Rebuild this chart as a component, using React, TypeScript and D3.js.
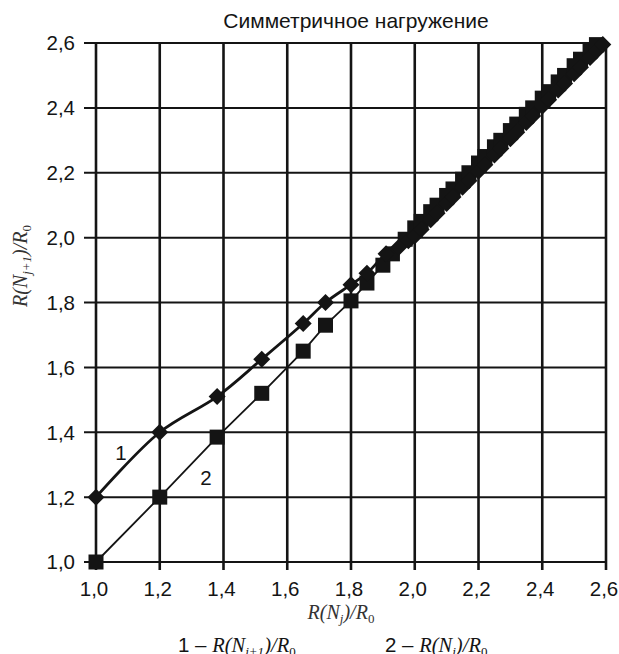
import { useEffect, useRef } from "react";
import * as d3 from "d3";

// series 1: R(N_{j+1})/R0 against R(N_j)/R0 (diamonds)
const s1X = [1.0, 1.2, 1.38, 1.52, 1.65, 1.72, 1.8, 1.85, 1.91, 1.95, 1.98,
  2.0, 2.02, 2.05, 2.07, 2.1, 2.12, 2.15, 2.17, 2.2, 2.22, 2.25, 2.27, 2.3, 2.32,
  2.35, 2.37, 2.4, 2.42, 2.45, 2.47, 2.5, 2.52, 2.55, 2.57, 2.59];
const s1Y = [1.2, 1.4, 1.51, 1.625, 1.735, 1.8, 1.855, 1.89, 1.95, 1.97, 1.99,
  2.005, 2.025, 2.055, 2.075, 2.105, 2.125, 2.155, 2.175, 2.205, 2.225, 2.255, 2.275, 2.305, 2.325,
  2.355, 2.375, 2.405, 2.425, 2.455, 2.475, 2.505, 2.525, 2.555, 2.575, 2.595];

// series 2: R(N_j)/R0 (squares)
const s2X = [1.0, 1.2, 1.38, 1.52, 1.65, 1.72, 1.8, 1.85, 1.9, 1.93, 1.97,
  2.0, 2.02, 2.05, 2.07, 2.1, 2.12, 2.15, 2.17, 2.2, 2.22, 2.25, 2.27, 2.3, 2.32,
  2.35, 2.37, 2.4, 2.42, 2.45, 2.47, 2.5, 2.52, 2.55, 2.57];
const s2Y = [1.0, 1.2, 1.385, 1.52, 1.65, 1.73, 1.805, 1.86, 1.915, 1.95, 1.995,
  2.03, 2.05, 2.08, 2.1, 2.13, 2.15, 2.18, 2.2, 2.23, 2.25, 2.28, 2.3, 2.33, 2.35,
  2.38, 2.4, 2.43, 2.45, 2.48, 2.5, 2.53, 2.55, 2.58, 2.595];

const ticks = [1.0, 1.2, 1.4, 1.6, 1.8, 2.0, 2.2, 2.4, 2.6];
const TITLE = "Симметричное нагружение";

const W = 619;
const H = 654;
const M = { left: 96, right: 606, top: 43, bottom: 562 };
const SANS = "'Liberation Sans', Arial, sans-serif";
const SERIF = "'Liberation Serif', 'Times New Roman', serif";
const INK = "#141414";

const fmt = (v: number) => v.toFixed(1).replace(".", ",");

export default function App() {
  const svgRef = useRef<SVGSVGElement | null>(null);

  useEffect(() => {
    const svg = d3.select(svgRef.current);
    svg.selectAll("*").remove();

    const x = d3.scaleLinear().domain([1.0, 2.6]).range([M.left, M.right]);
    const y = d3.scaleLinear().domain([1.0, 2.6]).range([M.bottom, M.top]);

    // grid + ticks
    const grid = svg.append("g").attr("stroke", INK).attr("stroke-width", 2);
    grid
      .selectAll("line.h")
      .data(ticks)
      .join("line")
      .attr("class", "h")
      .attr("x1", M.left - 12)
      .attr("x2", M.right)
      .attr("y1", (d) => y(d))
      .attr("y2", (d) => y(d));
    grid
      .selectAll("line.v")
      .data(ticks)
      .join("line")
      .attr("class", "v")
      .attr("y1", M.top)
      .attr("y2", M.bottom + 8)
      .attr("x1", (d) => x(d))
      .attr("x2", (d) => x(d))
      .attr("stroke-width", 2.6);

    svg
      .append("g")
      .selectAll("text")
      .data(ticks)
      .join("text")
      .attr("x", M.left - 21)
      .attr("y", (d) => y(d))
      .attr("dy", "0.36em")
      .attr("text-anchor", "end")
      .attr("font-family", SANS)
      .attr("font-size", 20.5)
      .attr("fill", INK)
      .text(fmt);

    svg
      .append("g")
      .selectAll("text")
      .data(ticks)
      .join("text")
      .attr("x", (d) => x(d) - 2)
      .attr("y", 596)
      .attr("text-anchor", "middle")
      .attr("font-family", SANS)
      .attr("font-size", 20.5)
      .attr("fill", INK)
      .text(fmt);

    // title
    svg
      .append("text")
      .attr("x", 356)
      .attr("y", 28)
      .attr("text-anchor", "middle")
      .attr("font-family", SANS)
      .attr("font-size", 21)
      .attr("fill", INK)
      .text(TITLE);

    // lines
    const s1 = s1X.map((v, i) => [v, s1Y[i]] as [number, number]);
    const s2 = s2X.map((v, i) => [v, s2Y[i]] as [number, number]);
    const line1 = d3
      .line<[number, number]>()
      .x((d) => x(d[0]))
      .y((d) => y(d[1]))
      .curve(d3.curveCatmullRom.alpha(0.5));
    const line2 = d3
      .line<[number, number]>()
      .x((d) => x(d[0]))
      .y((d) => y(d[1]));

    svg.append("path").datum(s2).attr("d", line2).attr("fill", "none").attr("stroke", INK).attr("stroke-width", 1.8);
    svg.append("path").datum(s1).attr("d", line1).attr("fill", "none").attr("stroke", INK).attr("stroke-width", 2.8);

    // markers
    const SQ = 15;
    svg
      .append("g")
      .selectAll("rect")
      .data(s2)
      .join("rect")
      .attr("x", (d) => x(d[0]) - SQ / 2)
      .attr("y", (d) => y(d[1]) - SQ / 2)
      .attr("width", SQ)
      .attr("height", SQ)
      .attr("fill", INK);

    const R = 8.5;
    svg
      .append("g")
      .selectAll("path")
      .data(s1)
      .join("path")
      .attr("d", (d) => {
        const cx = x(d[0]);
        const cy = y(d[1]);
        return `M${cx},${cy - R}L${cx + R},${cy}L${cx},${cy + R}L${cx - R},${cy}Z`;
      })
      .attr("fill", INK);

    // curve numbers
    svg.append("text").attr("x", 121).attr("y", 460).attr("text-anchor", "middle")
      .attr("font-family", SANS).attr("font-size", 20.5).attr("fill", INK).text("1");
    svg.append("text").attr("x", 206).attr("y", 485).attr("text-anchor", "middle")
      .attr("font-family", SANS).attr("font-size", 20.5).attr("fill", INK).text("2");

    // axis titles
    const xt = svg.append("text")
      .attr("x", 341)
      .attr("y", 619)
      .attr("text-anchor", "middle")
      .attr("font-family", SERIF)
      .attr("font-style", "italic")
      .attr("font-size", 20)
      .attr("fill", "#333");
    xt.append("tspan").text("R(N");
    xt.append("tspan").attr("font-size", 13).attr("dy", 4).text("j");
    xt.append("tspan").attr("dy", -4).text(")/R");
    xt.append("tspan").attr("font-size", 13).attr("dy", 4).attr("font-style", "normal").text("0");

    const yt = svg.append("text")
      .attr("transform", "translate(27,266) rotate(-90)")
      .attr("text-anchor", "middle")
      .attr("font-family", SERIF)
      .attr("font-style", "italic")
      .attr("font-size", 20)
      .attr("fill", "#333");
    yt.append("tspan").text("R(N");
    yt.append("tspan").attr("font-size", 13).attr("dy", 4).text("j+1");
    yt.append("tspan").attr("dy", -4).text(")/R");
    yt.append("tspan").attr("font-size", 13).attr("dy", 4).attr("font-style", "normal").text("0");

    // legend
    const leg1 = svg.append("text").attr("x", 178).attr("y", 652).attr("font-size", 20.5).attr("fill", INK);
    leg1.append("tspan").attr("font-family", SANS).text("1 – ");
    leg1.append("tspan").attr("font-family", SERIF).attr("font-style", "italic").text("R(N");
    leg1.append("tspan").attr("font-family", SERIF).attr("font-style", "italic").attr("font-size", 13).attr("dy", 4).text("j+1");
    leg1.append("tspan").attr("font-family", SERIF).attr("font-style", "italic").attr("dy", -4).text(")/R");
    leg1.append("tspan").attr("font-family", SERIF).attr("font-size", 13).attr("dy", 4).text("0");

    const leg2 = svg.append("text").attr("x", 385).attr("y", 652).attr("font-size", 20.5).attr("fill", INK);
    leg2.append("tspan").attr("font-family", SANS).text("2 – ");
    leg2.append("tspan").attr("font-family", SERIF).attr("font-style", "italic").text("R(N");
    leg2.append("tspan").attr("font-family", SERIF).attr("font-style", "italic").attr("font-size", 13).attr("dy", 4).text("j");
    leg2.append("tspan").attr("font-family", SERIF).attr("font-style", "italic").attr("dy", -4).text(")/R");
    leg2.append("tspan").attr("font-family", SERIF).attr("font-size", 13).attr("dy", 4).text("0");
  }, []);

  return (
    <svg
      ref={svgRef}
      width={W}
      height={H}
      style={{ position: "absolute", left: 0, top: 0, background: "#fff" }}
    />
  );
}
